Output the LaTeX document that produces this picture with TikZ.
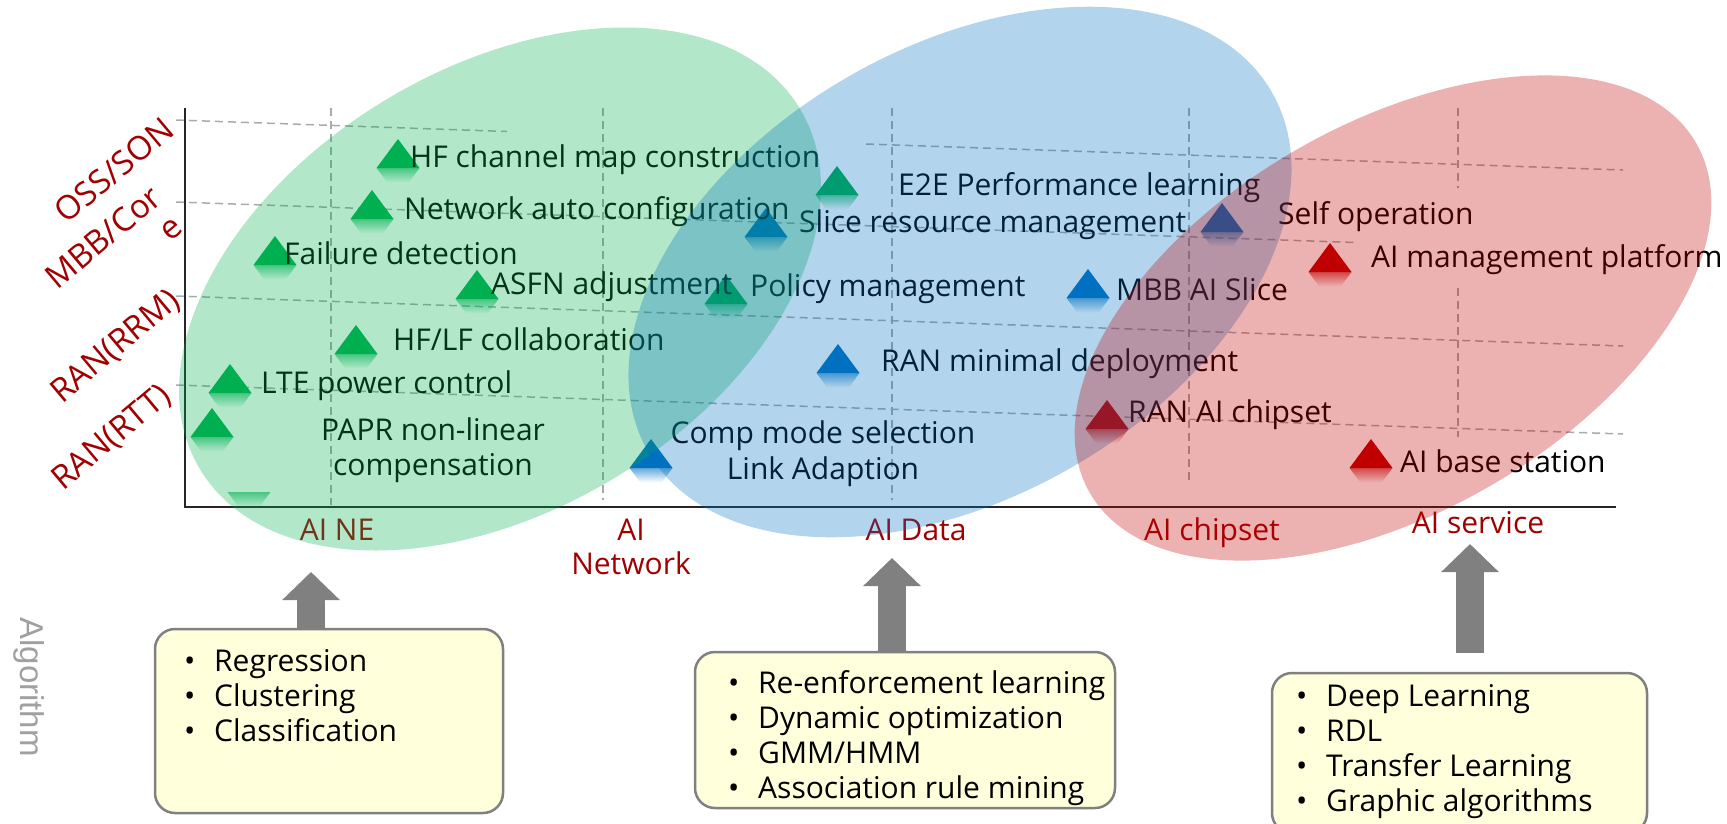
\documentclass[tikz,border=0pt]{standalone}
\usepackage{fontspec}
\setmainfont{Open Sans}
\newfontfamily\algofont{Liberation Sans}
\usetikzlibrary{fadings,arrows.meta}

\definecolor{ngreen}{RGB}{0,176,80}
\definecolor{nblue}{RGB}{0,112,192}
\definecolor{nred}{RGB}{192,0,0}
\definecolor{axisred}{RGB}{160,0,0}
\definecolor{gridgray}{RGB}{170,170,170}
\definecolor{notefill}{RGB}{255,255,220}
\definecolor{notedraw}{RGB}{128,128,128}
\definecolor{blockgray}{RGB}{128,128,128}
\definecolor{algogray}{RGB}{160,160,160}

% mirrored image under each marker, fading out downwards
\tikzfading[name=mirrorfade, top color=transparent!40, bottom color=transparent!100, middle color=transparent!100]

\tikzset{
  trimark/.pic={
    \fill (-21.5,0) -- (21.5,0) -- (0,29) -- cycle;
    \fill[path fading=mirrorfade] (-21.5,0) -- (21.5,0) -- (0,-29) -- cycle;
  },
  gridline/.style={gridgray, line width=1.5pt, dash pattern=on 8pt off 5pt},
  axisline/.style={black!85, line width=2pt},
  itemlbl/.style={anchor=base west, inner sep=0pt, font=\fontsize{30}{36}\selectfont, text=black},
  centerlbl/.style={anchor=base, inner sep=0pt, font=\fontsize{30}{36}\selectfont, text=black},
  axislbl/.style={anchor=base, inner sep=0pt, font=\fontsize{30}{36}\selectfont, text=axisred},
  levellbl/.style={rotate=40, inner sep=0pt, font=\fontsize{33}{40}\selectfont, text=axisred},
  notebox/.style={draw=notedraw, line width=2.5pt, fill=notefill, rounded corners=20pt, inner sep=0pt},
  noteline/.style={anchor=base west, inner sep=0pt, font=\fontsize{30}{36}\selectfont, text=black},
  blockarrow/.style={blockgray, line width=28pt, -{Triangle[length=28pt,width=56pt]}},
  zone/.style={fill opacity=0.3},
}

\newcommand\bul[1]{\makebox[30pt][l]{\textbullet}#1}

\begin{document}
\begin{tikzpicture}[x=1pt,y=1pt]
\useasboundingbox (0,0) rectangle (1727,-823);

% ---- dashed grid ----
\draw[gridline] (176,-120) -- (507,-131.5);
\draw[gridline] (866,-144) -- (1623,-170);
\draw[gridline] (176,-202) -- (1355,-242.5);
\draw[gridline] (176,-296) -- (1623,-346);
\draw[gridline] (176,-385) -- (1623,-434);
\draw[gridline] (331,-108) -- (331,-505);
\draw[gridline] (603,-108) -- (603,-500);
\draw[gridline] (892,-108) -- (892,-500);
\draw[gridline] (1189,-108) -- (1189,-480);
\draw[gridline] (1458,-108) -- (1458,-188);
\draw[gridline] (1458,-288) -- (1458,-437);

% ---- axes ----
\coordinate (ytop) at (185,-108);
\coordinate (origin) at (185,-507);
\coordinate (xend) at (1616,-507);
\draw[axisline] (ytop) -- (origin) -- (xend);

% ---- markers ----
\pic[color=ngreen] (mHF)   at (398,-168) {trimark};
\pic[color=ngreen] (mNet)  at (372,-219) {trimark};
\pic[color=ngreen] (mFail) at (275,-265) {trimark};
\pic[color=ngreen] (mASFN) at (477,-299) {trimark};
\pic[color=ngreen] (mPol)  at (726,-304) {trimark};
\pic[color=ngreen] (mHFLF) at (356,-354) {trimark};
\pic[color=ngreen] (mLTE)  at (230,-393) {trimark};
\pic[color=ngreen] (mPAPR) at (212,-437) {trimark};
\pic[color=ngreen] (mE2E)  at (837,-195) {trimark};
\fill[ngreen, path fading=mirrorfade] (227.5,-492) -- (270.5,-492) -- (249,-521) -- cycle;
\pic[color=nblue] (mSlice) at (766,-237) {trimark};
\pic[color=nblue] (mComp)  at (651,-468) {trimark};
\pic[color=nblue] (mMBB)   at (1088,-298) {trimark};
\pic[color=nblue] (mRANm)  at (838,-373) {trimark};
\pic[color=nblue] (mSelf)  at (1222,-232) {trimark};
\pic[color=nred] (mAImp)   at (1330,-272) {trimark};
\pic[color=nred] (mChip)   at (1107,-429) {trimark};
\pic[color=nred] (mBS)     at (1371,-468) {trimark};

% ---- item labels ----
\node[itemlbl] (lHF)   at (410,-167) {HF channel map construction};
\node[itemlbl] (lNet)  at (404,-219) {Network auto configuration};
\node[itemlbl] (lFail) at (284,-264) {Failure detection};
\node[itemlbl] (lASFN) at (491,-294) {ASFN adjustment};
\node[itemlbl] (lPol)  at (750,-296) {Policy management};
\node[itemlbl] (lHFLF) at (393,-350) {HF/LF collaboration};
\node[itemlbl] (lLTE)  at (261,-393) {LTE power control};
\node[centerlbl] (lPAPRa) at (433,-440) {PAPR non-linear};
\node[centerlbl] (lPAPRb) at (433,-475) {compensation};
\node[itemlbl] (lE2E)  at (898,-195) {E2E Performance learning};
\node[itemlbl] (lSlice) at (799,-232) {Slice resource management};
\node[itemlbl] (lSelf) at (1278,-224) {Self operation};
\node[itemlbl] (lAImp) at (1371,-267) {AI management platform};
\node[itemlbl] (lMBB)  at (1116,-300) {MBB AI Slice};
\node[itemlbl] (lRANm) at (881,-371) {RAN minimal deployment};
\node[itemlbl] (lChip) at (1128,-422) {RAN AI chipset};
\node[itemlbl] (lBS)   at (1400,-472) {AI base station};
\node[centerlbl] (lCompa) at (823,-443) {Comp mode selection};
\node[centerlbl] (lCompb) at (823,-479) {Link Adaption};

% ---- horizontal axis labels ----
\node[axislbl] (xNE)   at (337,-540) {AI NE};
\node[axislbl] (xNa)   at (631,-540) {AI};
\node[axislbl] (xNb)   at (631,-574) {Network};
\node[axislbl] (xData) at (916,-540) {AI Data};
\node[axislbl] (xChip) at (1212,-540) {AI chipset};
\node[axislbl] (xServ) at (1478,-533) {AI service};

% ---- translucent zones ----
\fill[ngreen, zone, rotate around={31:(500,-289)}] (500,-289) ellipse [x radius=350, y radius=221];
\fill[nblue, zone, rotate around={30:(960,-272)}] (960,-272) ellipse [x radius=360, y radius=225];
\fill[nred, zone, rotate around={30:(1393,-318)}] (1393,-318) ellipse [x radius=350, y radius=194];

% ---- vertical axis labels ----
\node[levellbl] (yOSS) at (114,-170) {OSS/SON};
\node[levellbl] (yMBB) at (103,-237) {MBB/Cor};
\node[levellbl] (yMBBe) at (172,-230) {e};
\node[levellbl] (yRRM) at (116,-347) {RAN(RRM)};
\node[levellbl] (yRTT) at (112,-438) {RAN(RTT)};
\node[rotate=-90, inner sep=0pt, text=algogray, font=\algofont\fontsize{33}{40}\selectfont] (algo) at (29,-687) {Algorithm};

% ---- algorithm boxes ----
\node[notebox, minimum width=348pt, minimum height=184pt] (box1) at (329,-721) {};
\node[notebox, minimum width=420pt, minimum height=156pt] (box2) at (905,-730) {};
\node[notebox, minimum width=375pt, minimum height=160pt] (box3) at (1459.5,-753) {};

\node[noteline] (b1a) at (184,-671) {\bul{Regression}};
\node[noteline] (b1b) at (184,-706) {\bul{Clustering}};
\node[noteline] (b1c) at (184,-741) {\bul{Classification}};

\node[noteline] (b2a) at (728,-693) {\bul{Re-enforcement learning}};
\node[noteline] (b2b) at (728,-728) {\bul{Dynamic optimization}};
\node[noteline] (b2c) at (728,-763) {\bul{GMM/HMM}};
\node[noteline] (b2d) at (728,-798) {\bul{Association rule mining}};

\node[noteline] (b3a) at (1296,-706) {\bul{Deep Learning}};
\node[noteline] (b3b) at (1296,-741) {\bul{RDL}};
\node[noteline] (b3c) at (1296,-776) {\bul{Transfer Learning}};
\node[noteline] (b3d) at (1296,-811) {\bul{Graphic algorithms}};

% ---- block arrows ----
\coordinate (tip1) at (311,-572);
\coordinate (tip2) at (892,-558);
\coordinate (tip3) at (1470,-544);
\coordinate (foot3) at (1470,-653);
\draw[blockarrow] (box1.north -| tip1) -- (tip1);
\draw[blockarrow] (box2.north -| tip2) -- (tip2);
\draw[blockarrow] (foot3) -- (tip3);
\end{tikzpicture}
\end{document}
